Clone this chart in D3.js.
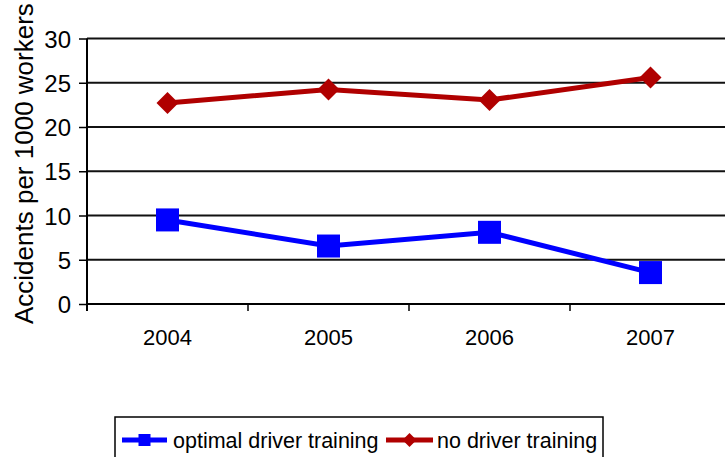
<!DOCTYPE html>
<html>
<head>
<meta charset="utf-8">
<script src="https://cdn.jsdelivr.net/npm/d3@7"></script>
<style>
  body { margin: 0; background: #fff; }
  svg { display: block; font-family: Arial, "Liberation Sans", sans-serif; }
</style>
</head>
<body>
<svg id="chart"></svg>
<script>
// data
var years = ['2004', '2005', '2006', '2007'];
var optimalTraining = [9.5, 6.55, 8.1, 3.55];
var noTraining = [22.7, 24.25, 23.05, 25.6];
var yTicks = [0, 5, 10, 15, 20, 25, 30];
var seriesNames = ['optimal driver training', 'no driver training'];

var W = 725, H = 457;
var svg = d3.select('#chart').attr('width', W).attr('height', H);

// plot box (note: 'top' is a reserved window prop, so use other names)
var plotLeft = 87, plotRight = 731, plotTop = 38.5, plotBottom = 304;

var x = d3.scaleBand().domain(years).range([plotLeft, plotRight]);
var y = d3.scaleLinear().domain([0, 30]).range([plotBottom, plotTop]);

// gridlines
svg.append('g').selectAll('line')
  .data(yTicks.filter(function(d){ return d > 0; }))
  .enter().append('line')
    .attr('x1', plotLeft).attr('x2', plotRight)
    .attr('y1', function(d){ return y(d); })
    .attr('y2', function(d){ return y(d); })
    .style('stroke', '#111')
    .style('stroke-width', 2);

// y axis
var yAxis = svg.append('g')
  .attr('transform', 'translate(' + plotLeft + ',0)')
  .call(d3.axisLeft(y).tickValues(yTicks).tickSize(8).tickPadding(8));
yAxis.select('.domain').remove();
yAxis.append('line')
  .attr('x1', 0).attr('x2', 0)
  .attr('y1', plotTop).attr('y2', plotBottom + 7)
  .style('stroke', '#000').style('stroke-width', 2);
yAxis.selectAll('.tick line').style('stroke', '#000').style('stroke-width', 1.5);
yAxis.selectAll('.tick text')
  .style('font-size', '24px').style('fill', '#000')
  .attr('dy', '0.36em');

// x axis: ticks on category boundaries
var xg = svg.append('g');
xg.append('line')
  .attr('x1', plotLeft).attr('x2', plotRight)
  .attr('y1', plotBottom).attr('y2', plotBottom)
  .style('stroke', '#000').style('stroke-width', 2);
xg.selectAll('.xtick')
  .data(years)
  .enter().append('line')
    .attr('class', 'xtick')
    .attr('x1', function(d){ return x(d) + x.bandwidth(); })
    .attr('x2', function(d){ return x(d) + x.bandwidth(); })
    .attr('y1', plotBottom).attr('y2', plotBottom + 7)
    .style('stroke', '#000').style('stroke-width', 1.5);
xg.selectAll('.xlabel')
  .data(years)
  .enter().append('text')
    .attr('class', 'xlabel')
    .attr('x', function(d){ return x(d) + x.bandwidth() / 2; })
    .attr('y', plotBottom + 41)
    .attr('text-anchor', 'middle')
    .style('font-size', '22px')
    .text(function(d){ return d; });

// y axis title
svg.append('text')
  .attr('transform', 'rotate(-90)')
  .attr('x', -324)
  .attr('y', 33)
  .attr('text-anchor', 'start')
  .style('font-size', '26px')
  .text('Accidents per 1000 workers');

var cx = function(d, i){ return x(years[i]) + x.bandwidth() / 2; };
var line = d3.line().x(cx).y(function(d){ return y(d); });

// no driver training (red, diamonds)
svg.append('path')
  .datum(noTraining)
  .attr('d', line)
  .style('fill', 'none').style('stroke', '#b00000').style('stroke-width', 5);
svg.selectAll('.diamond')
  .data(noTraining)
  .enter().append('path')
    .attr('class', 'diamond')
    .attr('d', 'M0,-11L11,0L0,11L-11,0Z')
    .attr('transform', function(d, i){ return 'translate(' + cx(d, i) + ',' + y(d) + ')'; })
    .style('fill', '#b00000');

// optimal driver training (blue, squares)
svg.append('path')
  .datum(optimalTraining)
  .attr('d', line)
  .style('fill', 'none').style('stroke', '#0000ff').style('stroke-width', 5);
svg.selectAll('.square')
  .data(optimalTraining)
  .enter().append('rect')
    .attr('class', 'square')
    .attr('x', function(d, i){ return cx(d, i) - 11.5; })
    .attr('y', function(d){ return y(d) - 11.5; })
    .attr('width', 23).attr('height', 23)
    .style('fill', '#0000ff');

// legend
var lg = svg.append('g');
lg.append('rect')
  .attr('x', 115).attr('y', 417)
  .attr('width', 488).attr('height', 50)
  .style('fill', 'none').style('stroke', '#000').style('stroke-width', 1.5);

var legendItems = [
  {name: seriesNames[0], color: '#0000ff', x1: 122, x2: 167, tx: 173, shape: 'square'},
  {name: seriesNames[1], color: '#b00000', x1: 386, x2: 433, tx: 437, shape: 'diamond'}
];
var ly = 440;
legendItems.forEach(function(it){
  lg.append('line')
    .attr('x1', it.x1).attr('x2', it.x2)
    .attr('y1', ly).attr('y2', ly)
    .style('stroke', it.color).style('stroke-width', 5);
  var mx = (it.x1 + it.x2) / 2;
  if (it.shape == 'square') {
    lg.append('rect')
      .attr('x', mx - 6).attr('y', ly - 6)
      .attr('width', 12).attr('height', 12)
      .style('fill', it.color);
  } else {
    lg.append('path')
      .attr('d', 'M0,-7L7,0L0,7L-7,0Z')
      .attr('transform', 'translate(' + mx + ',' + ly + ')')
      .style('fill', it.color);
  }
  lg.append('text')
    .attr('x', it.tx).attr('y', ly + 8)
    .style('font-size', '21.5px')
    .text(it.name);
});
</script>
</body>
</html>
